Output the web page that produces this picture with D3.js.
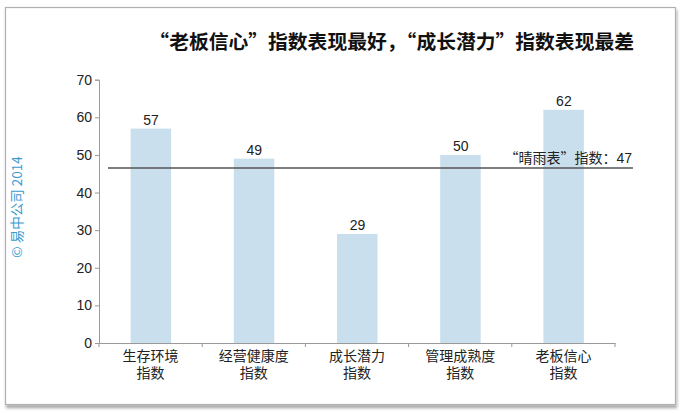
<!DOCTYPE html>
<html><head><meta charset="utf-8">
<script src="https://cdn.jsdelivr.net/npm/d3@7"></script>
<style>
body{margin:0;background:#fff;}
svg{display:block;font-family:"Liberation Sans","Noto Sans CJK SC",sans-serif;}
.cjk{font-family:"Noto Sans CJK SC",sans-serif;}
.fw{font-feature-settings:"fwid" 1;}
.pw{font-feature-settings:normal;font-family:"Liberation Sans",sans-serif;}
</style></head>
<body><svg id="c" width="684" height="414"></svg>
<script>
const categories = [["生存环境","指数"],["经营健康度","指数"],["成长潜力","指数"],["管理成熟度","指数"],["老板信心","指数"]];
const values = [57, 49, 29, 50, 62];
const refValue = 46.5;
const yTicks = [0,10,20,30,40,50,60,70];
const title = "“老板信心”指数表现最好，“成长潜力”指数表现最差";
const refLabel = "“晴雨表”指数：";
const credit = "© 易中公司 2014";

const svg = d3.select("#c");
const defs = svg.append("defs");
const f = defs.append("filter").attr("id","sh").attr("x","-5%").attr("y","-5%").attr("width","110%").attr("height","115%");
f.append("feDropShadow").attr("dx",1).attr("dy",3).attr("stdDeviation",1.5).attr("flood-color","#000").attr("flood-opacity",0.35);

svg.append("rect").attr("x",5.5).attr("y",7.5).attr("width",670).attr("height",397)
  .attr("fill","#fff").attr("stroke","#b0b0b0").attr("stroke-width",1.2).attr("filter","url(#sh)");

const y = d3.scaleLinear().domain([0,70]).range([343,79.7]);
const xAxisScale = d3.scaleBand().domain(d3.range(values.length)).range([99,615]);

// bars
svg.append("g").selectAll("rect").data(values).join("rect")
  .attr("x",(d,i)=>xAxisScale(i)+xAxisScale.bandwidth()/2-20.5+0.5)
  .attr("width",40.5)
  .attr("y",d=>y(d)).attr("height",d=>y(0)-y(d))
  .attr("fill","#c9dfee");

// value labels
svg.append("g").selectAll("text").data(values).join("text")
  .attr("x",(d,i)=>xAxisScale(i)+xAxisScale.bandwidth()/2+0.5)
  .attr("y",d=>y(d)-4)
  .attr("text-anchor","middle").attr("font-size",14).attr("fill","#222")
  .text(d=>d);

// y axis
const ya = svg.append("g").attr("transform","translate(99,0)")
  .call(d3.axisLeft(y).tickValues(yTicks).tickSize(4).tickPadding(3));
ya.attr("font-family",null).attr("font-size",null);
ya.selectAll("path,line").attr("stroke","#999");
ya.selectAll("text").attr("font-size",14).attr("fill","#222");

// x axis
const xa = svg.append("g").attr("transform","translate(0,343)")
  .call(d3.axisBottom(xAxisScale).tickValues([]).tickSizeOuter(0));
xa.select("path").attr("stroke","#999");
const bounds = [99].concat(d3.range(values.length).map(i=>xAxisScale(i)+xAxisScale.bandwidth()));
xa.selectAll("line.bt").data(bounds).join("line").attr("class","bt")
  .attr("x1",d=>d).attr("x2",d=>d).attr("y1",0).attr("y2",4).attr("stroke","#999");

// x labels (one text per line)
const lines = [];
categories.forEach((d,i)=>d.forEach((s,k)=>lines.push({i,k,s})));
svg.append("g").selectAll("text").data(lines).join("text")
  .attr("class","cjk")
  .attr("x",d=>xAxisScale(d.i)+xAxisScale.bandwidth()/2)
  .attr("y",d=>361+d.k*17)
  .attr("text-anchor","middle").attr("font-size",14).attr("fill","#222")
  .text(d=>d.s);

// reference line
svg.append("line").attr("x1",108).attr("x2",633).attr("y1",y(refValue)).attr("y2",y(refValue))
  .attr("stroke","#555").attr("stroke-width",1.5);
const rl = svg.append("text").attr("class","cjk fw").attr("x",632).attr("y",y(refValue)-5).attr("text-anchor","end")
  .attr("font-size",14).attr("fill","#222");
rl.append("tspan").text(refLabel);
rl.append("tspan").attr("class","pw").text(Math.round(refValue));

// title
svg.append("text").attr("class","cjk fw").attr("x",634).attr("y",48.5).attr("text-anchor","end")
  .attr("font-size",19.8).attr("font-weight","bold").attr("fill","#111")
  .text(title);

// credit
svg.append("text").attr("class","cjk").attr("transform","translate(22,207) rotate(-90)")
  .attr("text-anchor","middle").attr("font-size",13.5).attr("fill","#3a9bd0")
  .text(credit);
</script></body></html>
